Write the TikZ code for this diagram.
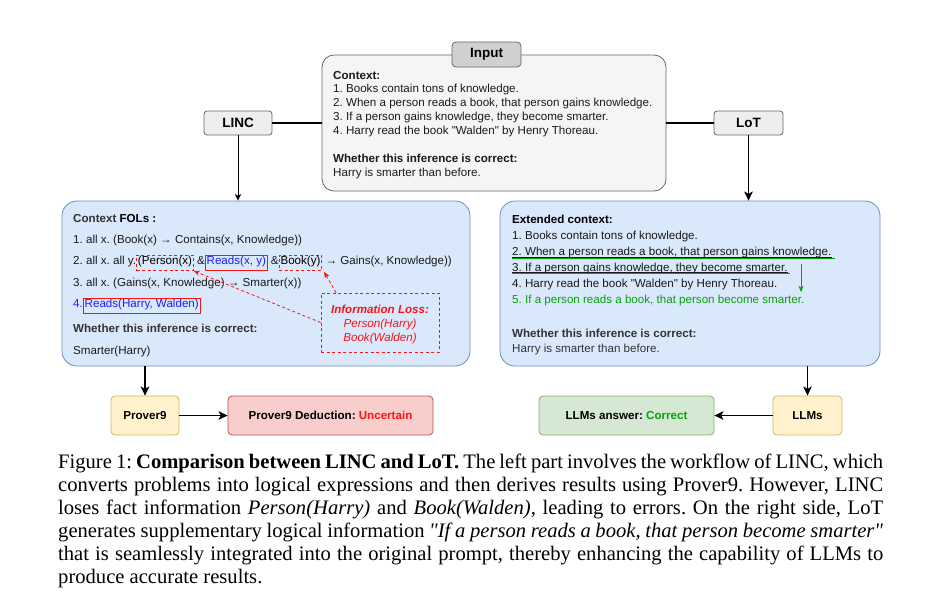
\documentclass[tikz,border=0pt]{standalone}
\usepackage{fontspec}
\setmainfont{Liberation Serif}
\newfontfamily\arial{Liberation Sans}
\usetikzlibrary{arrows.meta,calc}
\frenchspacing
\definecolor{inputfill}{HTML}{F5F5F5}
\definecolor{grayline}{HTML}{666666}
\definecolor{lblfill}{HTML}{D0D0D0}
\definecolor{tagfill}{HTML}{EEEEEE}
\definecolor{bluefill}{HTML}{DAE8FC}
\definecolor{blueline}{HTML}{6C8EBF}
\definecolor{yelfill}{HTML}{FFF2CC}
\definecolor{yelline}{HTML}{D6B656}
\definecolor{redfill}{HTML}{F8CECC}
\definecolor{redline}{HTML}{B85450}
\definecolor{grnfill}{HTML}{D5E8D4}
\definecolor{grnline}{HTML}{82B366}
\definecolor{redtxt}{RGB}{250,20,20}
\definecolor{grntxt}{RGB}{10,160,10}
\definecolor{bluetxt}{RGB}{30,30,255}
\definecolor{darktxt}{HTML}{1A1A1A}
\definecolor{graytxt}{HTML}{333333}
\begin{document}
\begin{tikzpicture}[x=1pt,y=-1pt,
  box/.style={draw, line width=0.8pt, inner sep=0pt, align=center},
  txt/.style={anchor=base west, inner sep=0pt, text=darktxt, font=\arial\fontsize{11.6}{14}\selectfont},
  bld/.style={font=\arial\bfseries\fontsize{11.6}{14}\selectfont},
  tagfont/.style={font=\arial\bfseries\fontsize{13.5}{16}\selectfont},
  redbox/.style={anchor=base west, draw=redtxt, line width=0.8pt, inner xsep=1.2pt, inner ysep=0pt, text height=9pt, text depth=6.5pt, font=\arial\fontsize{11.6}{14}\selectfont},
  reddash/.style={dash pattern=on 3pt off 2.5pt},
  arr/.style={-{Stealth[length=9pt,width=8.5pt,inset=2.2pt]}, line width=1.6pt},
  thinarr/.style={-{Stealth[length=6.5pt,width=6pt,inset=1.6pt]}, line width=0.9pt},
  captxt/.style={anchor=base west, inner sep=0pt, font=\fontsize{20.6}{23}\selectfont}
]
\fill[white] (0,0) rectangle (933,600);
\useasboundingbox (0,0) rectangle (933,600);

% ---------- boxes ----------
\node[box, draw=grayline, fill=inputfill, rounded corners=12pt, minimum width=344pt, minimum height=136pt] (input) at (494,123) {};
\node[box, draw=grayline, fill=lblfill, rounded corners=4pt, minimum width=69pt, minimum height=25pt, tagfont] (inlbl) at (486.5,54.5) {Input};
\node[box, draw=grayline, fill=tagfill, rounded corners=3pt, minimum width=68pt, minimum height=24pt, tagfont] (linc) at (238,123) {LINC};
\node[box, draw=grayline, fill=tagfill, rounded corners=3pt, minimum width=69pt, minimum height=24pt, tagfont] (lot) at (748.5,123) {LoT};
\node[box, draw=blueline, fill=bluefill, rounded corners=15pt, minimum width=408pt, minimum height=165pt] (lbox) at (266,283.5) {};
\node[box, draw=blueline, fill=bluefill, rounded corners=15pt, minimum width=380pt, minimum height=165pt] (rbox) at (690,283.5) {};
\node[box, draw=yelline, fill=yelfill, rounded corners=4pt, minimum width=68pt, minimum height=39pt, bld] (prover) at (145,415.5) {Prover9};
\node[box, draw=redline, fill=redfill, rounded corners=4pt, minimum width=205pt, minimum height=39pt, bld] (ded) at (330.5,415.5) {Prover9 Deduction: \textcolor{redtxt}{Uncertain}};
\node[box, draw=grnline, fill=grnfill, rounded corners=4pt, minimum width=175pt, minimum height=39pt, bld] (ans) at (626.5,415.5) {LLMs answer: \textcolor{grntxt}{Correct}};
\node[box, draw=yelline, fill=yelfill, rounded corners=4pt, minimum width=69pt, minimum height=39pt, bld] (llms) at (807.5,415.5) {LLMs};

% ---------- connectors ----------
\draw[line width=1.6pt] (linc.east) -- (input.west |- linc.east);
\draw[line width=1.6pt] (input.east |- lot.west) -- (lot.west);
\draw[thinarr] (linc.south) -- (linc.south |- lbox.north);
\draw[arr] (lot.south) -- (lot.south |- rbox.north);
\draw[arr] (prover.north |- lbox.south) -- (prover.north);
\draw[arr] (llms.north |- rbox.south) -- (llms.north);
\draw[arr] (prover.east) -- (ded.west);
\draw[arr] (llms.west) -- (ans.east);

% ---------- input text ----------
\begin{scope}[every node/.append style={text=graytxt}]
\node[txt, bld] (i0) at (333,79) {Context:};
\node[txt] (i1) at (333,92) {1. Books contain tons of knowledge.};
\node[txt] (i2) at (333,106.3) {2. When a person reads a book, that person gains knowledge.};
\node[txt] (i3) at (333,120.6) {3. If a person gains knowledge, they become smarter.};
\node[txt] (i4) at (333,134.9) {4. Harry read the book \textquotedbl Walden\textquotedbl\ by Henry Thoreau.};
\node[txt, bld] (i5) at (333,162) {Whether this inference is correct:};
\node[txt] (i6) at (333,176) {Harry is smarter than before.};
\end{scope}

% ---------- left box text ----------
\node[txt, bld] (f0) at (73,222) {\textcolor{graytxt}{Context} \textcolor{black}{FOLs :}};
\node[txt] (f1) at (73,243) {1. all x. (Book(x) → Contains(x, Knowledge))};
\node[txt] (f2a) at (73,264) {2. all x. all y.\ };
\node[redbox, reddash] (f2b) at (f2a.base east) {(Person(x)};
\node[txt] (f2c) at (f2b.base east) {\ \&\ };
\node[redbox, text=bluetxt] (f2d) at (f2c.base east) {Reads(x, y)};
\node[txt] (f2e) at (f2d.base east) {\ \&\ };
\node[redbox, reddash] (f2f) at (f2e.base east) {Book(y)};
\node[txt] (f2g) at (f2f.base east) {\ → Gains(x, Knowledge))};
\node[txt] (f3) at (73,286) {3. all x. (Gains(x, Knowledge) → Smarter(x))};
\node[txt, text=bluetxt] (f4a) at (73,307) {4.\ };
\node[redbox, text=bluetxt] (f4b) at (f4a.base east) {Reads(Harry, Walden)};
\node[txt, bld, text=graytxt] (f5) at (73,332) {Whether this inference is correct:};
\node[txt] (f6) at (73,354) {Smarter(Harry)};

% information loss
\node[draw=redtxt, reddash, line width=0.8pt, minimum width=118pt, minimum height=59pt, inner sep=0pt] (info) at (380,322.5) {};
\node[anchor=base, inner sep=0pt, text=redtxt, font=\arial\bfseries\itshape\fontsize{11.6}{14}\selectfont] (info1) at (380,313) {Information Loss:};
\node[anchor=base, inner sep=0pt, text=redtxt, font=\arial\itshape\fontsize{11.6}{14}\selectfont] (info2) at (380,327) {Person(Harry)};
\node[anchor=base, inner sep=0pt, text=redtxt, font=\arial\itshape\fontsize{11.6}{14}\selectfont] (info3) at (380,341) {Book(Walden)};
\draw[redtxt, reddash, line width=0.8pt, -{Stealth[length=6pt,width=5pt,inset=1.5pt]}] (info.west) -- (f2b.south east);
\draw[redtxt, reddash, line width=0.8pt, -{Stealth[length=6pt,width=5pt,inset=1.5pt]}] ($(info.north west)!0.13!(info.north east)$) -- ($(f2f.south east)+(2,1)$);

% ---------- right box text ----------
\node[txt, bld, text=black] (r0) at (512,223) {Extended context:};
\node[txt] (r1) at (512,239.5) {1. Books contain tons of knowledge.};
\node[txt] (r2) at (512,255.5) {2. When a person reads a book, that person gains knowledge.};
\node[txt] (r3) at (512,271) {3. If a person gains knowledge, they become smarter.};
\node[txt] (r4) at (512,287) {4. Harry read the book \textquotedbl Walden\textquotedbl\ by Henry Thoreau.};
\node[txt, text=grntxt] (r5) at (512,303) {5. If a person reads a book, that person become smarter.};
\node[txt, bld, text=graytxt] (r6) at (512,337) {Whether this inference is correct:};
\node[txt, text=graytxt] (r7) at (512,352.5) {Harry is smarter than before.};
\draw[darktxt, line width=0.6pt] ($(r2.base west)+(0,1.6)$) -- ($(r2.base east)+(0,1.6)$);
\draw[grntxt, line width=1pt] ($(r2.base west)+(0,2.8)$) -- ($(r2.base east)+(3,2.8)$);
\draw[darktxt, line width=0.6pt] ($(r3.base west)+(0,1.6)$) -- ($(r3.base east)+(0,1.6)$);
\draw[grntxt, line width=1pt] ($(r3.base west)+(0,2.8)$) -- ($(r3.base east)+(2,2.8)$);
\coordinate (ga1) at (801,264);
\coordinate (ga2) at (801,292);
\draw[grntxt, line width=0.9pt, -{Stealth[length=6pt,width=5pt,inset=1.5pt]}] (ga1) -- (ga2);

% ---------- caption ----------
\node[captxt] (cap1) at (58,468) {\hbox to 825pt{Figure 1: \textbf{Comparison between LINC and LoT.} The left part involves the workflow of LINC, which}};
\node[captxt] (cap2) at (58,491) {\hbox to 825pt{converts problems into logical expressions and then derives results using Prover9. However, LINC}};
\node[captxt] (cap3) at (58,514) {\hbox to 825pt{loses fact information \textit{Person(Harry)} and \textit{Book(Walden)}, leading to errors. On the right side, LoT}};
\node[captxt] (cap4) at (58,537) {\hbox to 825pt{generates supplementary logical information \textit{\textquotedbl If a person reads a book, that person become smarter\textquotedbl}}};
\node[captxt] (cap5) at (58,560) {\hbox to 825pt{that is seamlessly integrated into the original prompt, thereby enhancing the capability of LLMs to}};
\node[captxt] (cap6) at (58,583) {produce accurate results.};
\end{tikzpicture}
\end{document}
